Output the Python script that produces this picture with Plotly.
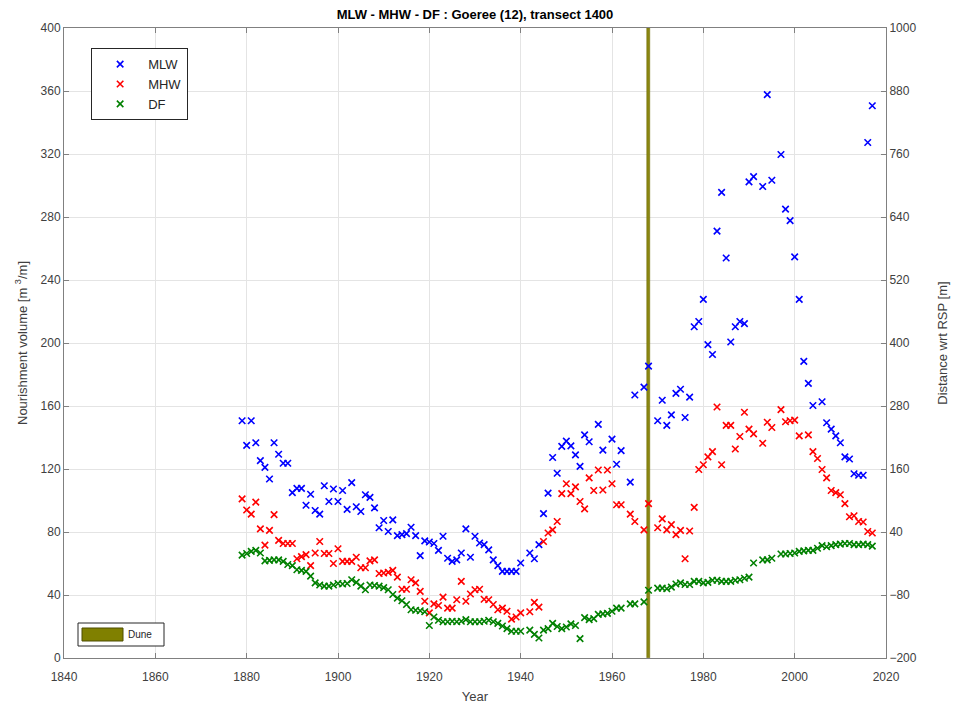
import plotly.graph_objects as go

# Survey years (a few years have no survey)
years = [
    1879,
    1880, 1881, 1882, 1883, 1884, 1885, 1886, 1887, 1888, 1889,
    1890, 1891, 1892, 1893, 1894, 1895, 1896, 1897, 1898, 1899,
    1900, 1901, 1902, 1903, 1904, 1905, 1906, 1907, 1908, 1909,
    1910, 1911, 1912, 1913, 1914, 1915, 1916, 1917, 1918, 1919,
    1920, 1921, 1922, 1923, 1924, 1925, 1926, 1927, 1928, 1929,
    1930, 1931, 1932, 1933, 1934, 1935, 1936, 1937, 1938, 1939,
    1940, 1942, 1943, 1944, 1945, 1946, 1947, 1948, 1949,
    1950, 1951, 1952, 1953, 1954, 1955, 1956, 1957, 1958, 1959,
    1960, 1961, 1962, 1964, 1965, 1967, 1968,
    1970, 1971, 1972, 1973, 1974, 1975, 1976, 1977, 1978, 1979,
    1980, 1981, 1982, 1983, 1984, 1985, 1986, 1987, 1988, 1989,
    1990, 1991, 1993, 1994, 1995, 1997, 1998, 1999,
    2000, 2001, 2002, 2003, 2004, 2005, 2006, 2007, 2008, 2009,
    2010, 2011, 2012, 2013, 2014, 2015, 2016, 2017,
]

# Distance wrt RSP [m] of the MLW line
mlw = [
    252,
    205, 252, 210, 176, 163, 141, 210, 188, 171, 171,
    115, 123, 123, 91, 112, 81, 74, 128, 98, 122,
    98, 119, 83, 134, 88, 79, 111, 106, 86, 48,
    62, 41, 63, 33, 35, 37, 49, 33, -5, 23,
    21, 18, 5, 32, -10, -16, -13, 0, 46, -8,
    32, 19, 16, 6, -13, -24, -35, -35, -35, -35,
    -19, 0, -11, 16, 75, 114, 182, 152, 203,
    213, 204, 187, 165, 225, 212, None, 245, 196, None,
    217, 169, 195, 135, 301, 316, 356,
    252, 291, 243, 263, 304, 312, 258, 297, 431, 441,
    483, 397, 378, 613, 687, 562, 402, 431, 441, 437,
    707, 717, 698, 873, 710, 759, 655, 633,
    564, 483, 365, 323, 281, None, 288, 248, 236, 223,
    210, 183, 179, 151, 148, 148, 782, 852,
]

# Distance wrt RSP [m] of the MHW line
mhw = [
    103,
    82, 74, 97, 46, 15, 43, 73, 24, 18, 18,
    18, -11, -7, -3, -24, 0, 22, -1, -1, -20,
    8, -16, -16, -16, -8, -28, -28, -15, -13, -39,
    -38, -37, -33, -46, -69, -69, -51, -57, -73, -92,
    -114, -97, -100, -84, -105, -105, -89, -54, -92, -78,
    -70, -69, -88, -89, -98, -108, -105, -111, -126, -122,
    -114, -112, -94, -103, 22, 38, 44, 60, 113,
    132, 113, 126, 98, 84, 143, 119, 158, 120, 158,
    132, 92, 92, 74, 60, 44, 94,
    48, 65, 44, 54, 35, 43, -11, 42, 87, 159,
    168, 183, 193, 278, 168, 243, 243, 198, 222, 268,
    236, 227, 209, 249, 239, 273, 250, 252,
    253, 223, None, 225, 193, 180, 159, 143, 119, 115,
    111, 94, 69, 71, 60, 59, 41, 38,
]

# Distance wrt RSP [m] of the dune foot
df = [
    -4,
    -1, 3, 5, 0, -15, -14, -13, -13, -16, -22,
    -24, -32, -33, -35, -44, -57, -61, -63, -63, -61,
    -58, -59, -58, -51, -56, -63, -70, -61, -62, -63,
    -66, -70, -79, -86, -91, -98, -108, -109, -110, -112,
    -138, -122, -128, -131, -131, -130, -131, -130, -127, -131,
    -131, -131, -130, -128, -131, -134, -139, -144, -149, -149,
    -149, -147, -155, -162, -147, -144, -134, -140, -144,
    -141, -135, -138, -163, -123, -127, -125, -117, -116, -115,
    -111, -105, -105, -97, -97, -93, -71,
    -67, -67, -68, -65, -59, -57, -60, -60, -54, -54,
    -57, -56, -52, -52, -54, -54, -54, -52, -51, -48,
    -46, -19, -13, -13, -10, -2, -2, -1,
    0, 3, 4, 5, 5, 9, 14, 12, 14, 16,
    17, 18, 18, 16, 16, 17, 16, 13,
]

# Nourishments [m3/m]
nourish_years = [1968]
nourish_volume = [400]

x_ticks = [1840, 1860, 1880, 1900, 1920, 1940, 1960, 1980, 2000, 2020]
left_ticks = [0, 40, 80, 120, 160, 200, 240, 280, 320, 360, 400]
right_ticks = [-200, -80, 40, 160, 280, 400, 520, 640, 760, 880, 1000]

FONT = "Liberation Sans, Arial, Helvetica, sans-serif"
TXT = "#404040"
AXC = "#808080"
GRID = "#e4e4e4"

fig = go.Figure()

fig.add_trace(go.Bar(
    x=nourish_years, y=nourish_volume, width=0.6,
    marker=dict(color="#8a8612", line=dict(color="#6e6a00", width=0.5)),
    yaxis="y", showlegend=False, name="Dune",
))

for name, vals, col in [("MLW", mlw, "#0000ff"), ("MHW", mhw, "#ff0000"), ("DF", df, "#008000")]:
    fig.add_trace(go.Scatter(
        x=years, y=vals, mode="markers", name=name, yaxis="y2",
        marker=dict(symbol="x-thin", size=6.5, color=col,
                    line=dict(color=col, width=1.6)),
    ))

axis_common = dict(
    ticks="inside", ticklen=5, tickcolor=AXC, tickwidth=1,
    showline=True, linecolor=AXC, linewidth=1,
    tickfont=dict(family=FONT, size=12, color=TXT),
    zeroline=False, automargin=False,
)

fig.update_layout(
    width=960, height=709,
    margin=dict(l=64, r=74, t=28, b=51),
    paper_bgcolor="white", plot_bgcolor="white",
    font=dict(family=FONT, color=TXT),
    title=dict(
        text="<b>MLW - MHW - DF : Goeree (12), transect 1400</b>",
        font=dict(family=FONT, size=13, color="#000000"),
        x=0.5, xref="paper", xanchor="center",
        y=1 - 14 / 709, yref="container", yanchor="middle",
    ),
    xaxis=dict(
        range=[1840, 2020], tickvals=x_ticks, mirror="ticks",
        showgrid=True, gridcolor=GRID, gridwidth=1,
        ticklabelstandoff=8,
        title=dict(text="Year", font=dict(family=FONT, size=13, color=TXT), standoff=8),
        **axis_common,
    ),
    yaxis=dict(
        range=[0, 400], tickvals=left_ticks,
        showgrid=True, gridcolor=GRID, gridwidth=1,
        title=dict(text="Nourishment volume [m <sup>3</sup>/m]",
                   font=dict(family=FONT, size=13, color=TXT), standoff=10),
        **axis_common,
    ),
    yaxis2=dict(
        range=[-200, 1000], tickvals=right_ticks, overlaying="y", side="right",
        showgrid=False,
        title=dict(text="Distance wrt RSP [m]",
                   font=dict(family=FONT, size=13, color=TXT), standoff=22),
        **axis_common,
    ),
    legend=dict(
        x=0.033, y=0.968, xanchor="left", yanchor="top",
        bgcolor="white", bordercolor="#262626", borderwidth=1,
        font=dict(family=FONT, size=13, color="#262626"),
        itemwidth=46, tracegroupgap=0,
    ),
    bargap=0,
)

# Legend box for the nourishment type
px_w, px_h, x0p, y0p = 822, 630, 64, 28
def px_x(p):
    return (p - x0p) / px_w
def px_y(p):
    return 1 - (p - y0p) / px_h

fig.add_shape(type="rect", xref="paper", yref="paper",
              x0=px_x(78), x1=px_x(164), y0=px_y(646), y1=px_y(623),
              line=dict(color="#262626", width=1), fillcolor="white", layer="above")
fig.add_shape(type="rect", xref="paper", yref="paper",
              x0=px_x(82), x1=px_x(123), y0=px_y(641), y1=px_y(628),
              line=dict(color="#4d4d00", width=1), fillcolor="#808000", layer="above")
fig.add_annotation(text="Dune", xref="paper", yref="paper",
                   x=px_x(126), y=px_y(634.5), xanchor="left", yanchor="middle",
                   showarrow=False, font=dict(family=FONT, size=10, color="#262626"))

fig.write_html("out.html")
